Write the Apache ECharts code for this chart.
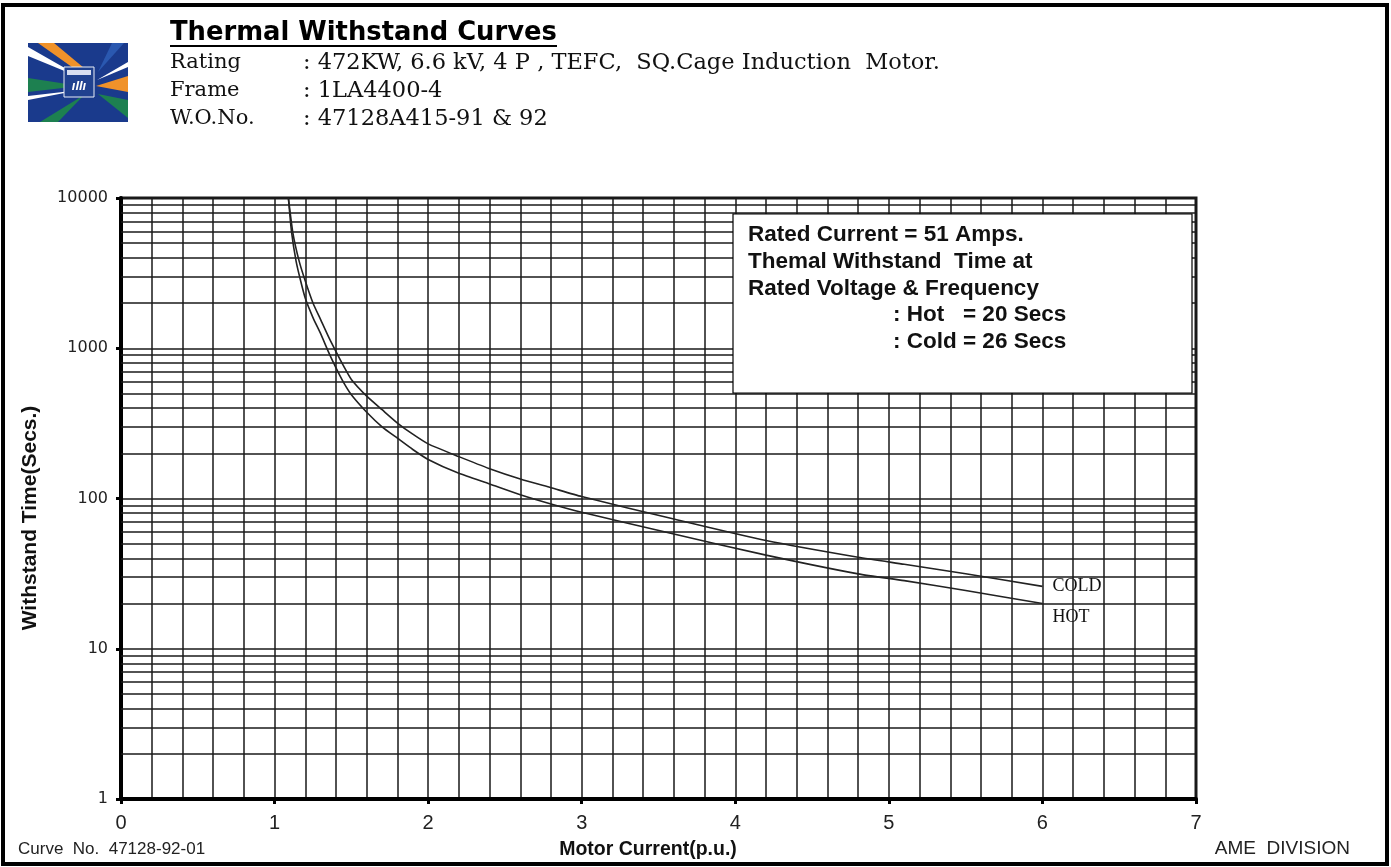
<!DOCTYPE html>
<html>
<head>
<meta charset="utf-8">
<script src="https://cdn.jsdelivr.net/npm/echarts@6/dist/echarts.min.js"></script>
<style>
html,body{margin:0;padding:0;background:#fff;}
#chart{width:1391px;height:867px;}
</style>
</head>
<body>
<div id="chart"></div>
<script>
// ---- data ----
const hotCurve = [
  [1.09,10000],[1.11,6000],[1.14,3800],[1.17,2800],[1.20,2150],[1.25,1600],
  [1.30,1250],[1.35,950],[1.40,740],[1.45,590],[1.50,490],[1.60,375],
  [1.70,300],[1.80,252],[1.90,212],[2.00,182],[2.20,147],[2.40,125],
  [2.60,106],[2.80,92],[3.00,81],[3.60,58],[4.20,42],[4.80,31.5],
  [5.10,28.4],[5.50,24.4],[6.00,20]
];
const coldCurve = [
  [1.09,10000],[1.12,5800],[1.16,3800],[1.20,2800],[1.25,2000],[1.30,1550],
  [1.35,1200],[1.40,950],[1.45,760],[1.50,620],[1.60,480],[1.70,390],
  [1.80,318],[1.90,268],[2.00,231],[2.20,190],[2.40,158],[2.60,135],
  [2.80,118],[3.00,103],[3.60,73],[4.20,52.5],[4.80,40.6],[5.10,36.5],
  [5.50,31.6],[6.00,26]
];
const xTicks = [0,1,2,3,4,5,6,7];
const yDecades = [1,10,100,1000,10000];
const yMinorGrid = [2,3,4,5,6,7,8,9,20,30,40,50,60,70,80,90,200,300,400,500,600,700,800,900,2000,3000,4000,5000,6000,7000,8000,9000];
const infoLines = ['Rated Current = 51 Amps.','Themal Withstand  Time at','Rated Voltage & Frequency'];
const infoValues = [': Hot   = 20 Secs',': Cold = 26 Secs'];
const headerLabels = ['Rating','Frame','W.O.No.'];
const headerValues = [': 472KW, 6.6 kV, 4 P , TEFC,  SQ.Cage Induction  Motor.',': 1LA4400-4',': 47128A415-91 & 92'];

const chart = echarts.init(document.getElementById('chart'), null, {renderer:'canvas'});
const gridLine = {color:'#1a1a1a', width:1.5};
const narrow = '"Liberation Sans Narrow","Arial Narrow",Arial,sans-serif';
const serif = '"DejaVu Serif","Liberation Serif",serif';

const graphics = [];
// page border
graphics.push({type:'rect', shape:{x:3,y:5,width:1384,height:859}, style:{fill:'none',stroke:'#000',lineWidth:4}, z:100});
// logo
graphics.push({type:'group', children:[
  {type:'rect', shape:{x:28,y:43,width:100,height:79}, style:{fill:'#1a3a8c'}},
  {type:'polygon', shape:{points:[[38,43],[54,43],[90,73],[86,77]]}, style:{fill:'#f0922a'}},
  {type:'polygon', shape:{points:[[28,47],[28,56],[84,79]]}, style:{fill:'#ffffff'}},
  {type:'polygon', shape:{points:[[28,78],[28,92],[80,86]]}, style:{fill:'#1d8050'}},
  {type:'polygon', shape:{points:[[28,96],[28,100],[80,90]]}, style:{fill:'#ffffff'}},
  {type:'polygon', shape:{points:[[40,122],[58,122],[84,95]]}, style:{fill:'#1d8050'}},
  {type:'polygon', shape:{points:[[128,76],[128,92],[96,86]]}, style:{fill:'#f0922a'}},
  {type:'polygon', shape:{points:[[128,62],[128,67],[97,80]]}, style:{fill:'#ffffff'}},
  {type:'polygon', shape:{points:[[128,100],[128,118],[98,94]]}, style:{fill:'#1d8050'}},
  {type:'polygon', shape:{points:[[112,43],[124,43],[98,72]]}, style:{fill:'#2a58b0'}},
  {type:'rect', shape:{x:64,y:67,width:30,height:30}, style:{fill:'#20418f',stroke:'#e8ecf5',lineWidth:1}},
  {type:'rect', shape:{x:67,y:70,width:24,height:5}, style:{fill:'#d8def0'}},
  {type:'text', style:{x:79,y:86,text:'ıllı',fill:'#ffffff',font:'bold italic 13px sans-serif',textAlign:'center',textVerticalAlign:'middle'}}
]});
// header
graphics.push({type:'text', style:{x:170,y:33,text:'Thermal Withstand Curves',fill:'#000',font:'bold 25.8px "DejaVu Sans",Verdana,sans-serif',textVerticalAlign:'middle'}});
graphics.push({type:'line', shape:{x1:170,y1:46,x2:557,y2:46}, style:{stroke:'#000',lineWidth:2}});
headerLabels.forEach((t,i)=>{
  graphics.push({type:'text', style:{x:170,y:63+i*28,text:t,fill:'#111',font:'21px '+serif,textVerticalAlign:'middle'}});
  graphics.push({type:'text', style:{x:303,y:63+i*28,text:headerValues[i],fill:'#111',font:'22.5px '+serif,textVerticalAlign:'middle'}});
});
// info box
graphics.push({type:'rect', shape:{x:733,y:214,width:459,height:179}, style:{fill:'#fff',stroke:'#000',lineWidth:1.2}, z:50});
infoLines.forEach((t,i)=>{
  graphics.push({type:'text', z:51, style:{x:748,y:235+i*26.8,text:t,fill:'#111',font:'bold 22.5px "Liberation Sans",Arial,sans-serif',textVerticalAlign:'middle'}});
});
infoValues.forEach((t,i)=>{
  graphics.push({type:'text', z:51, style:{x:893,y:315+i*27,text:t,fill:'#111',font:'bold 22.5px "Liberation Sans",Arial,sans-serif',textVerticalAlign:'middle'}});
});
// axis names
graphics.push({type:'text', x:30, y:518, rotation:Math.PI/2, style:{x:0,y:0,text:'Withstand Time(Secs.)',fill:'#111',font:'bold 21px "Liberation Sans",Arial,sans-serif',textAlign:'center',textVerticalAlign:'middle'}});
graphics.push({type:'text', style:{x:648,y:850,text:'Motor Current(p.u.)',fill:'#111',font:'bold 19.5px "Liberation Sans",Arial,sans-serif',textAlign:'center',textVerticalAlign:'middle'}});
// footer texts
graphics.push({type:'text', style:{x:18,y:849,text:'Curve  No.  47128-92-01',fill:'#222',font:'17px '+narrow,textVerticalAlign:'middle'}});
graphics.push({type:'text', style:{x:1350,y:849,text:'AME  DIVISION',fill:'#222',font:'19px '+narrow,textAlign:'right',textVerticalAlign:'middle'}});

const option = {
  backgroundColor:'#fff',
  animation:false,
  grid:{left:121, top:198, width:1075, height:601, show:true, borderColor:'#1a1a1a', borderWidth:3, backgroundColor:'transparent'},
  xAxis:{
    type:'value', min:xTicks[0], max:xTicks[xTicks.length-1], interval:1,
    axisLine:{show:true, onZero:false, lineStyle:{color:'#000', width:4}},
    axisTick:{show:true, length:5, lineStyle:{color:'#000', width:3}},
    axisLabel:{margin:14, fontFamily:narrow, fontSize:20, color:'#222'},
    splitLine:{show:true, lineStyle:gridLine},
    minorTick:{show:false, splitNumber:5},
    minorSplitLine:{show:true, lineStyle:gridLine}
  },
  yAxis:{
    type:'log', logBase:10, min:yDecades[0], max:yDecades[yDecades.length-1],
    axisLine:{show:true, lineStyle:{color:'#000', width:4}},
    axisTick:{show:true, length:5, lineStyle:{color:'#000', width:3}},
    axisLabel:{margin:13, fontFamily:'"DejaVu Sans",sans-serif', fontSize:16, color:'#222', formatter:v=>String(Math.round(v))},
    splitLine:{show:true, lineStyle:gridLine}
  },
  series:[
    {
      name:'grid', type:'line', data:[], silent:true, z:1,
      markLine:{silent:true, symbol:['none','none'], label:{show:false}, lineStyle:{color:'#1a1a1a', width:1.5, type:'solid'},
        data:yMinorGrid.map(v=>({yAxis:v}))}
    },
    {
      name:'COLD', type:'line', data:coldCurve, showSymbol:false, smooth:0.2, z:5,
      lineStyle:{color:'#222', width:1.6},
      endLabel:{show:true, formatter:'COLD', offset:[2,0], fontFamily:'"Liberation Serif",serif', fontSize:18, color:'#111'}
    },
    {
      name:'HOT', type:'line', data:hotCurve, showSymbol:false, smooth:0.2, z:5,
      lineStyle:{color:'#222', width:1.6},
      endLabel:{show:true, formatter:'HOT', offset:[2,14], fontFamily:'"Liberation Serif",serif', fontSize:18, color:'#111'}
    }
  ],
  graphic:graphics
};
chart.setOption(option);
</script>
</body>
</html>
